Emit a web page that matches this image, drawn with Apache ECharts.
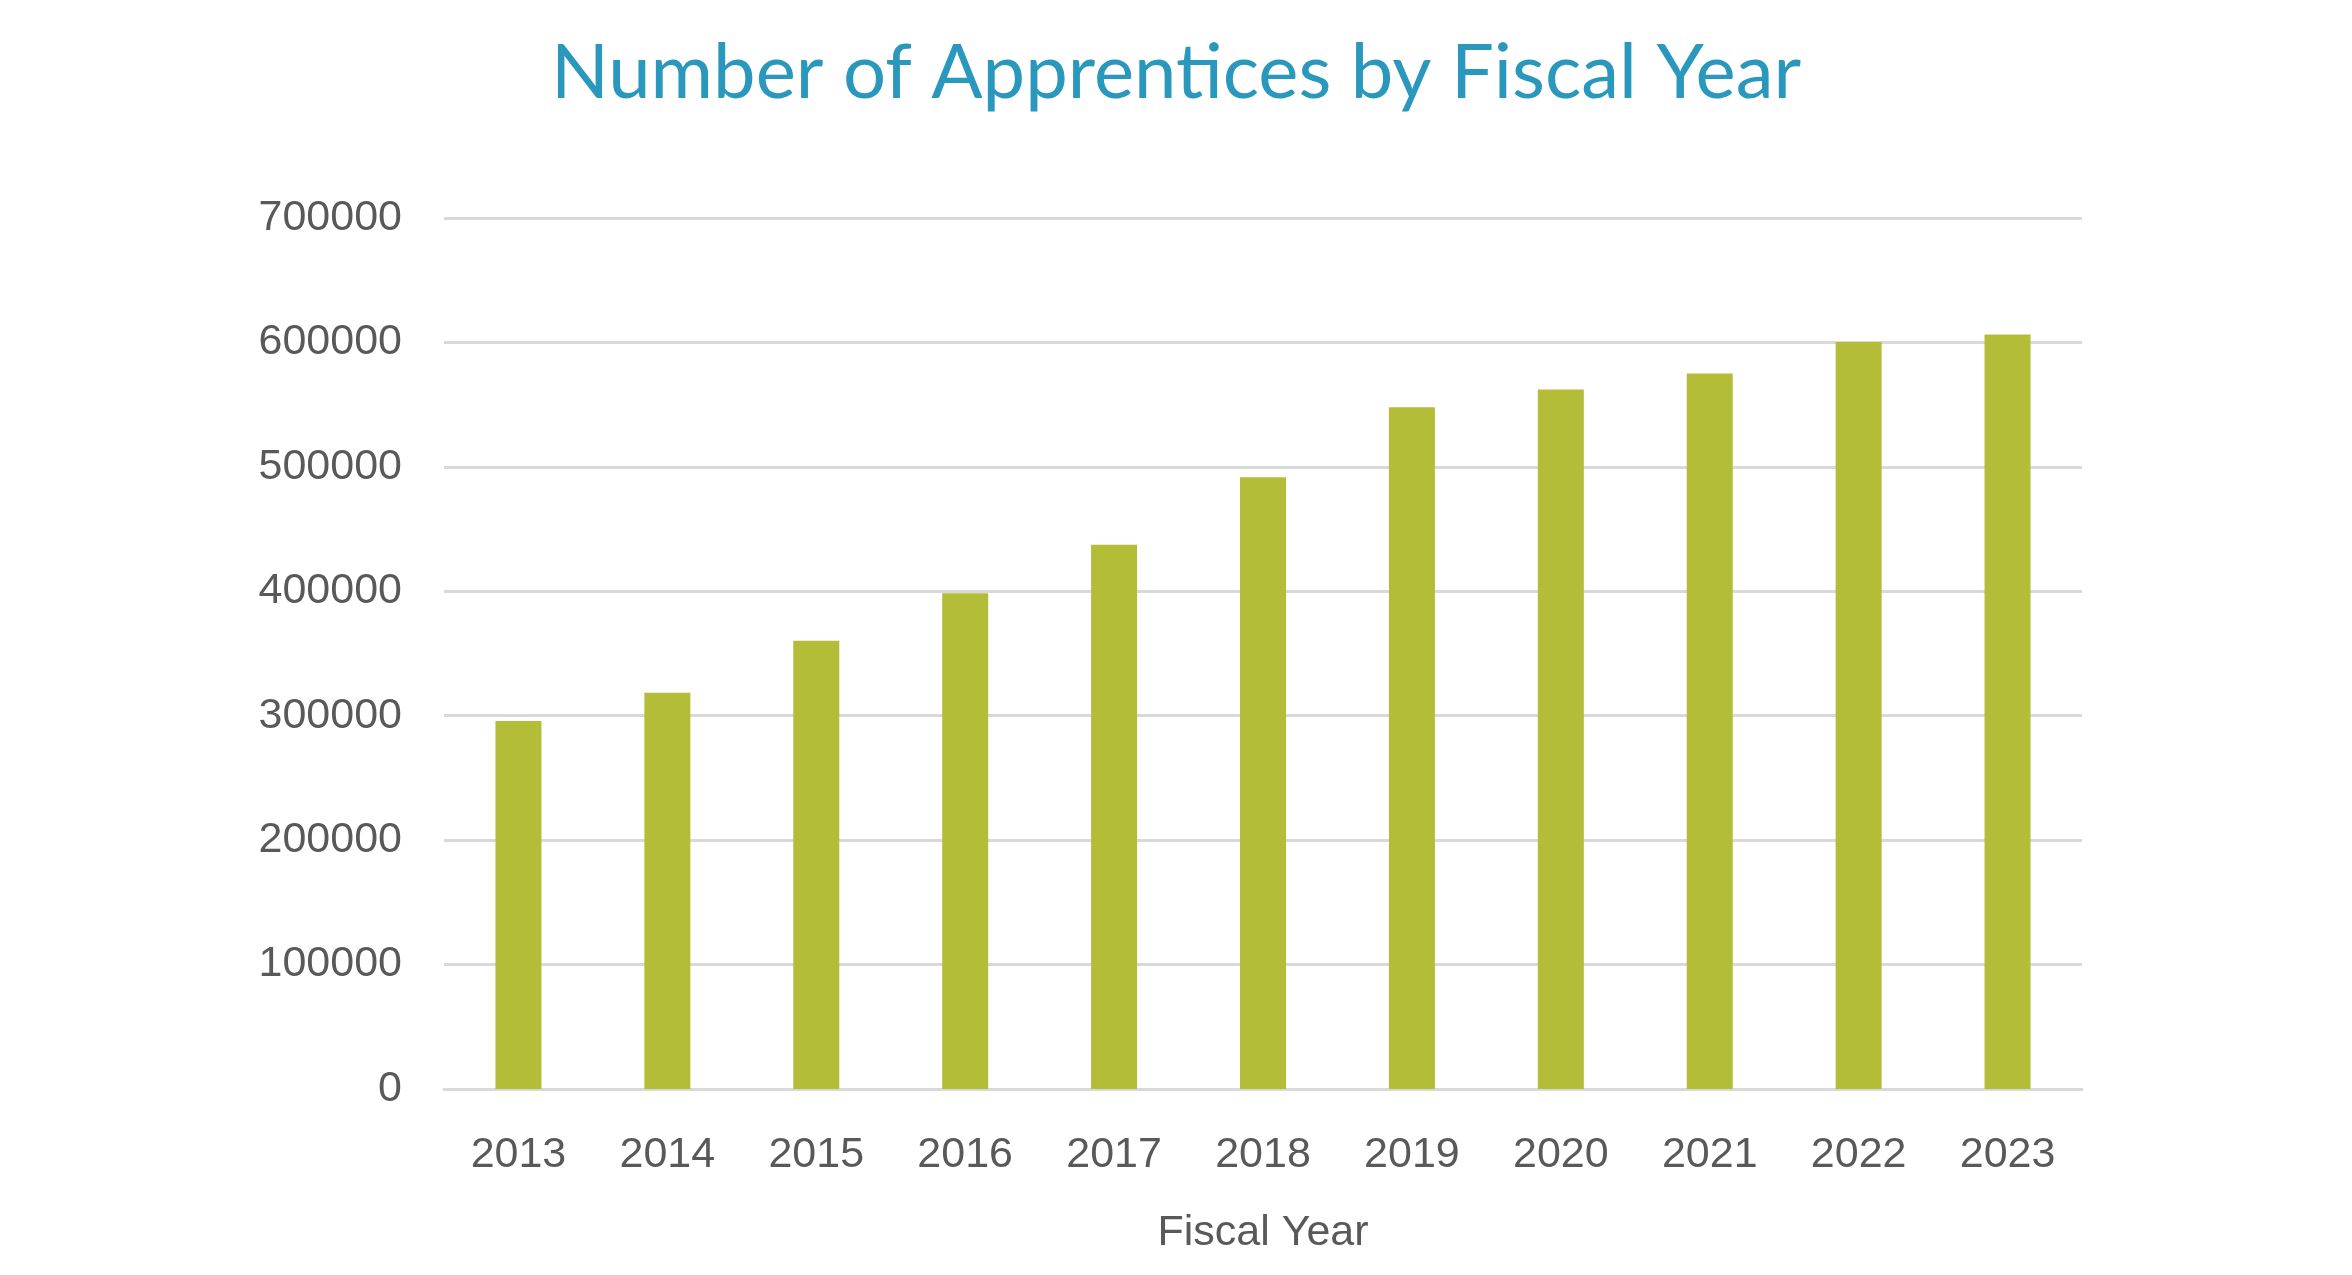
<!DOCTYPE html>
<html>
<head>
<meta charset="utf-8">
<script src="https://cdn.jsdelivr.net/npm/echarts@6/dist/echarts.min.js"></script>
<style>
  html, body { margin: 0; padding: 0; background: #fff; }
  #chart { width: 2352px; height: 1275px; }
</style>
</head>
<body>
<div id="chart"></div>
<script>
// 数据
var years = ['2013', '2014', '2015', '2016', '2017', '2018', '2019', '2020', '2021', '2022', '2023'];
var apprentices = [295700, 318500, 360300, 398400, 437500, 491700, 548000, 562200, 575100, 600300, 606400];

var chartDom = document.getElementById('chart');
var myChart = echarts.init(chartDom);
var option;

option = {
    animation: false,
    title: {
        text: 'Number of Apprentices by Fiscal Year',
        left: 'center',
        top: 30,
        textStyle: {
            fontFamily: 'Lato',
            fontWeight: 'normal',
            fontSize: 76,
            color: '#2a97bd'
        }
    },
    grid: { // 图表位置
        left: 444,
        right: 270,
        top: 218,
        bottom: 186
    },
    xAxis: {
        type: 'category',
        data: years,
        name: 'Fiscal Year',
        nameLocation: 'middle',
        nameGap: 123,
        nameTextStyle: {
            fontFamily: 'Liberation Sans',
            fontSize: 43,
            color: '#595959'
        },
        axisTick: { show: false },
        axisLine: {
            lineStyle: { color: '#d9d9d9', width: 3 }
        },
        axisLabel: {
            margin: 45,
            fontFamily: 'Liberation Sans',
            fontSize: 43,
            color: '#595959'
        }
    },
    yAxis: {
        type: 'value',
        min: 0,
        max: 700000,
        interval: 100000,
        axisLine: { show: false },
        axisTick: { show: false },
        axisLabel: {
            margin: 42,
            fontFamily: 'Liberation Sans',
            fontSize: 43,
            color: '#595959',
            formatter: function (value) {
                return String(value); // 不要千分位
            }
        },
        splitLine: { // 网格线
            lineStyle: { color: '#d9d9d9', width: 3 }
        }
    },
    series: [
        {
            name: 'Apprentices',
            type: 'bar',
            data: apprentices,
            barWidth: 46, // 柱宽
            itemStyle: {
                color: '#b4bd37'
            }
        }
    ]
};

option && myChart.setOption(option);
</script>
</body>
</html>
